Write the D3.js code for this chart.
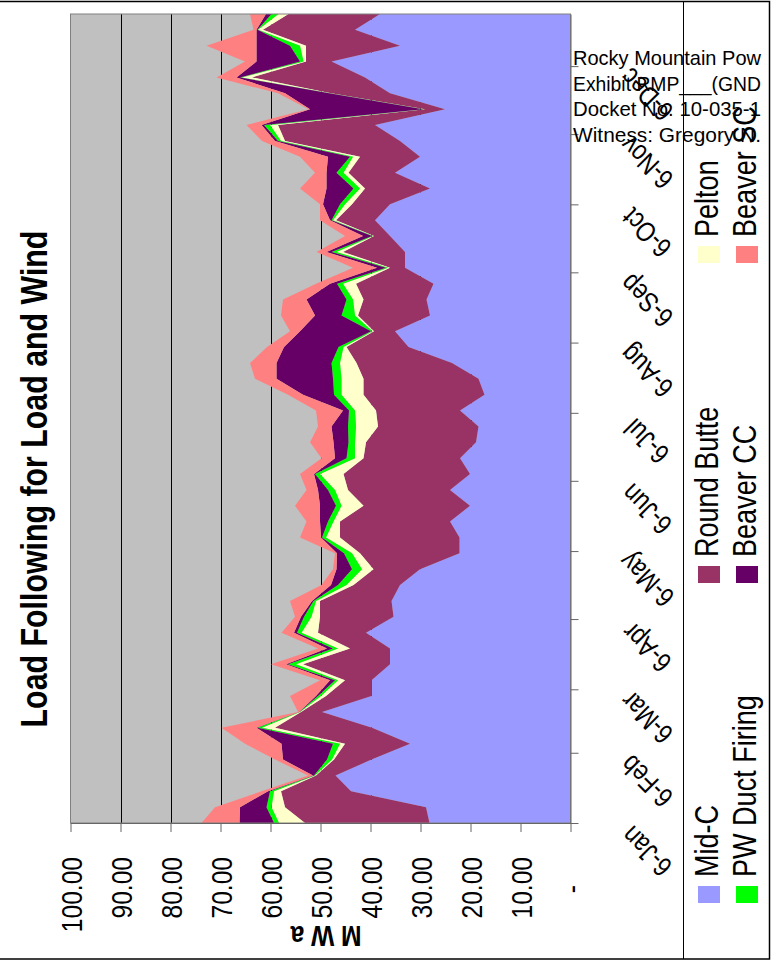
<!DOCTYPE html>
<html>
<head>
<meta charset="utf-8">
<script src="https://cdn.jsdelivr.net/npm/d3@7"></script>
<style>
  html, body { margin: 0; padding: 0; background: #ffffff; }
  svg { display: block; }
  text { font-family: "Liberation Sans", Arial, sans-serif; fill: #000; }
</style>
</head>
<body>
<svg id="chart" width="771" height="961"></svg>
<script>
// ---------------- DATA ----------------
const weekDates = [
  "2006-01-06","2006-01-13","2006-01-20","2006-01-27",
  "2006-02-03","2006-02-10","2006-02-17","2006-02-24",
  "2006-03-03","2006-03-10","2006-03-17","2006-03-24","2006-03-31",
  "2006-04-07","2006-04-14","2006-04-21","2006-04-28",
  "2006-05-05","2006-05-12","2006-05-19","2006-05-26",
  "2006-06-02","2006-06-09","2006-06-16","2006-06-23","2006-06-30",
  "2006-07-07","2006-07-14","2006-07-21","2006-07-28",
  "2006-08-04","2006-08-11","2006-08-18","2006-08-25",
  "2006-09-01","2006-09-08","2006-09-15","2006-09-22","2006-09-29",
  "2006-10-06","2006-10-13","2006-10-20","2006-10-27",
  "2006-11-03","2006-11-10","2006-11-17","2006-11-24",
  "2006-12-01","2006-12-08","2006-12-15","2006-12-22","2006-12-29"
];
const midC = [28.2,28.9,43.9,47.0,39.8,32.1,39.7,49.7,39.8,39.8,36.1,36.1,40.9,
  35.4,35.8,34.1,30.1,22.2,22.2,24.1,20.1,24.1,20.1,22.1,18.9,18.4,
  22.1,17.2,18.4,23.7,32.4,35.1,28.1,28.8,27.4,33.1,33.1,36.1,39.1,
  36.1,28.1,35.1,30.1,34.1,39.1,25.1,36.1,41.1,47.8,34.1,43.1,38.1];
const roundButte = [24.9,28.2,14.0,3.9,7.5,13.0,19.4,4.2,9.1,5.3,17.4,8.0,9.6,
  14.7,14.3,9.3,9.3,19.9,23.9,22.0,21.3,20.4,25.3,19.3,22.0,20.1,
  16.8,24.2,23.0,19.1,12.4,4.2,14.4,12.6,15.5,3.0,12.4,3.2,7.8,
  7.6,13.0,9.3,12.0,23.0,19.4,4.0,11.8,22.6,5.1,18.8,18.4,18.3];
const pelton = [5.2,2.7,1.4,0.2,0.4,1.0,2.6,0.2,1.0,1.4,1.4,2.4,3.3,
  1.7,0.8,1.4,2.3,1.6,2.8,1.3,4.4,2.6,4.7,1.7,2.2,4.4,
  4.2,4.4,4.4,3.3,0.6,0.3,0.6,2.1,2.6,0.4,1.3,0.2,0.6,
  1.4,1.0,1.0,1.4,0.8,1.6,0.2,0.2,2.1,0.5,1.2,1.0,2.0];
const pwDuctFiring = [1.0,1.0,0.8,0.2,1.0,1.4,0.9,0.1,0.6,0.6,1.6,1.0,0.9,
  1.5,0.5,1.7,2.0,1.6,0.8,1.1,1.1,1.4,1.0,1.7,1.3,1.6,
  1.2,1.5,1.7,1.7,1.0,0.3,2.7,1.3,1.2,0.4,1.0,0.2,0.3,
  1.0,1.3,1.4,0.6,0.6,1.2,0.2,0.2,0.3,0.7,2.0,0.1,1.4];
const beaverCC = [6.9,5.3,0.4,0.2,8.8,10.3,0.2,0.1,0.4,1.0,0.4,1.2,0.6,
  0.6,0.3,1.4,3.1,1.4,0.2,1.6,3.2,2.0,0.2,2.3,3.0,3.3,
  1.2,6.2,11.3,11.0,10.9,14.2,5.3,8.0,1.4,1.8,1.0,1.8,0.3,
  3.4,5.4,2.0,4.4,0.6,0.5,22.6,8.8,0.7,8.7,6.7,0.2,1.1];
const beaverSC = [7.6,5.0,1.3,1.0,1.6,7.3,7.0,0.2,5.2,2.0,3.0,1.8,2.5,
  1.2,4.4,1.9,0.7,0.4,4.2,2.7,5.0,2.3,2.8,2.7,4.7,2.7,
  5.4,3.0,4.3,5.3,3.4,2.0,6.8,4.7,2.8,4.8,2.0,3.6,2.0,
  0.6,5.3,2.3,5.6,2.6,3.0,0.3,1.4,4.0,2.3,10.0,0.6,3.2];

const seriesNames = ["Mid-C","Round Butte","Pelton","PW Duct Firing","Beaver CC","Beaver SC"];
const seriesValues = [midC, roundButte, pelton, pwDuctFiring, beaverCC, beaverSC];
const seriesColors = ["#9999FF","#993366","#FFFFCC","#00FF00","#660066","#FF8080"];

const valueTicks = [0,10,20,30,40,50,60,70,80,90,100];
const dateTickValues = ["2006-01-06","2006-02-06","2006-03-06","2006-04-06","2006-05-06","2006-06-06",
  "2006-07-06","2006-08-06","2006-09-06","2006-10-06","2006-11-06","2006-12-06"];
const dateTickLabels = ["6-Jan","6-Feb","6-Mar","6-Apr","6-May","6-Jun","6-Jul","6-Aug","6-Sep","6-Oct","6-Nov","6-Dec"];

const chartTitle = "Load Following for Load and Wind";
const axisTitle = "M W a";
const noteLines = ["Rocky Mountain Pow","Exhibit RMP___(GND","Docket No. 10-035-1","Witness: Gregory N."];

// ---------------- LAYOUT ----------------
const svg = d3.select("#chart");
const parse = d3.utcParse("%Y-%m-%d");
const dates = weekDates.map(parse);
const NARROW = 0.82;

const plot = { left: 70.5, right: 570.5, top: 14, bottom: 823 };

const xVal = d3.scaleLinear().domain([0, 100]).range([plot.right, plot.left]);
const yTime = d3.scaleUtc().domain([dates[0], dates[dates.length - 1]]).range([plot.bottom, plot.top]);

const rows = dates.map((d, i) => {
  const r = { date: d };
  seriesNames.forEach((n, k) => r[n] = seriesValues[k][i]);
  return r;
});
const stacked = d3.stack().keys(seriesNames)(rows);

// outer frame
svg.append("rect").attr("x", -2).attr("y", 1.5).attr("width", 771.5).attr("height", 957.5)
  .attr("fill", "none").attr("stroke", "#000").attr("stroke-width", 1.5);

// plot background
svg.append("rect").attr("x", plot.left).attr("y", plot.top)
  .attr("width", plot.right - plot.left).attr("height", plot.bottom - plot.top)
  .attr("fill", "#C0C0C0");

// gridlines
svg.append("g").selectAll("line").data(valueTicks.filter(v => v > 0 && v < 100)).join("line")
  .attr("x1", d => Math.round(xVal(d)) + 0.5).attr("x2", d => Math.round(xVal(d)) + 0.5)
  .attr("y1", plot.top).attr("y2", plot.bottom)
  .attr("stroke", "#000").attr("stroke-width", 1);

// areas
const area = d3.area()
  .y(d => yTime(d.data.date))
  .x0(d => xVal(d[0]))
  .x1(d => xVal(d[1]));
svg.append("g").selectAll("path").data(stacked).join("path")
  .attr("d", area)
  .attr("fill", (d, i) => seriesColors[i]);

// plot border
svg.append("rect").attr("x", plot.left).attr("y", plot.top)
  .attr("width", plot.right - plot.left).attr("height", plot.bottom - plot.top)
  .attr("fill", "none").attr("stroke", "#808080").attr("stroke-width", 1);

// value axis (bottom on screen)
const valAxis = svg.append("g").attr("transform", `translate(0,${plot.bottom})`)
  .call(d3.axisBottom(xVal).tickValues(valueTicks).tickSize(9).tickSizeOuter(0)
    .tickFormat(d => d === 0 ? "-" : d3.format(".2f")(d)));
valAxis.select(".domain").attr("stroke", "#666");
valAxis.selectAll(".tick line").attr("stroke", "#666");
valAxis.selectAll(".tick text")
  .attr("x", 0).attr("y", 0).attr("dy", "0.35em")
  .attr("text-anchor", "end")
  .attr("font-size", 30)
  .attr("transform", d => `translate(0,${d === 0 ? 62 : 34}) rotate(-90) scale(${NARROW},1)`);

// time axis (right on screen)
const tickDates = dateTickValues.map(parse);
const timeAxis = svg.append("g").attr("transform", `translate(${plot.right},0)`)
  .call(d3.axisRight(yTime).tickValues(tickDates).tickSize(8).tickSizeOuter(0)
    .tickFormat((d, i) => dateTickLabels[i]));
timeAxis.select(".domain").attr("stroke", "#666");
timeAxis.selectAll(".tick line").attr("stroke", "#666");
timeAxis.selectAll(".tick text")
  .attr("x", 0).attr("y", 0).attr("dy", "0.35em")
  .attr("text-anchor", "middle")
  .attr("font-size", 28)
  .attr("transform", `translate(76,28) rotate(-135) scale(${NARROW},1)`);

// title
svg.append("text").text(chartTitle)
  .attr("text-anchor", "middle").attr("font-weight", "bold").attr("font-size", 37)
  .attr("transform", `translate(47,479) rotate(-90) scale(${NARROW},1)`);

// axis title
svg.append("text").text(axisTitle)
  .attr("text-anchor", "middle").attr("font-weight", "bold").attr("font-size", 30)
  .attr("transform", `translate(326,926) rotate(180) scale(${NARROW},1)`);

// legend
svg.append("line").attr("x1", 683.5).attr("x2", 683.5).attr("y1", 1.5).attr("y2", 959)
  .attr("stroke", "#000").attr("stroke-width", 1);
const legendOrder = [0, 3, 1, 4, 2, 5];
const legendCol = [698, 736];
const legendRow = [886, 566, 246];
const legendG = svg.append("g");
legendOrder.forEach((k, j) => {
  const col = j % 2, row = Math.floor(j / 2);
  const sx = legendCol[col], sy = legendRow[row];
  legendG.append("rect").attr("x", sx).attr("y", sy).attr("width", 22).attr("height", 17)
    .attr("fill", seriesColors[k]);
  legendG.append("text").text(seriesNames[k])
    .attr("font-size", 33)
    .attr("transform", `translate(${sx + 20},${sy - 9}) rotate(-90) scale(${NARROW},1)`);
});

// overlay note (fit inside the right edge)
const noteX = 573, noteMax = 188;
svg.append("g").selectAll("text").data(noteLines).join("text")
  .attr("x", noteX).attr("y", (d, i) => 65 + i * 25.6)
  .attr("font-size", 21)
  .text(d => d)
  .each(function () {
    const w = this.getComputedTextLength();
    if (w > noteMax) {
      d3.select(this).attr("textLength", noteMax).attr("lengthAdjust", "spacingAndGlyphs");
    }
  });
</script>
</body>
</html>
